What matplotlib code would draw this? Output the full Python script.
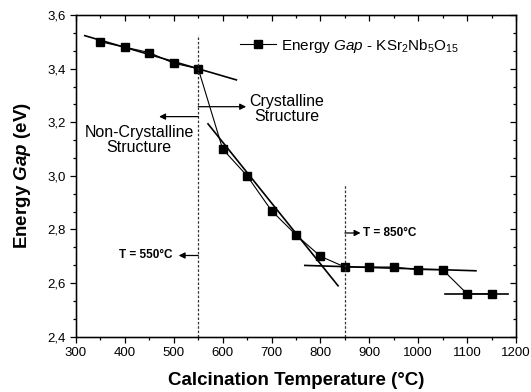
import matplotlib
matplotlib.use("Agg")
import matplotlib.pyplot as plt
from matplotlib.ticker import MultipleLocator, AutoMinorLocator, FuncFormatter

plt.rcParams["font.family"] = ["Liberation Sans", "DejaVu Sans"]
plt.rcParams["mathtext.fontset"] = "custom"
plt.rcParams["mathtext.rm"] = "Liberation Sans"
plt.rcParams["mathtext.it"] = "Liberation Sans:italic"
plt.rcParams["mathtext.bf"] = "Liberation Sans:bold"
plt.rcParams["mathtext.bfit"] = "Liberation Sans:italic:bold"

# data
temperature = [350, 400, 450, 500, 550, 600, 650, 700, 750, 800, 850, 900, 950, 1000, 1050, 1100, 1150]
energy_gap = [3.50, 3.48, 3.46, 3.42, 3.40, 3.10, 3.00, 2.87, 2.78, 2.70, 2.66, 2.66, 2.66, 2.65, 2.65, 2.56, 2.56]

# linear fit segments
fit_x = [[318, 628], [570, 836], [768, 1118], [1055, 1184]]
fit_y = [[3.523, 3.358], [3.194, 2.590], [2.666, 2.646], [2.558, 2.558]]

transitions = [550, 850]
transition_top = [3.525, 2.966]

fig = plt.figure(figsize=(5.31, 3.92), dpi=100)
ax = fig.add_axes([0.1431, 0.141, 0.8287, 0.8207])

for xs, ys in zip(fit_x, fit_y):
    ax.plot(xs, ys, color="black", lw=1.2)

ax.plot(temperature, energy_gap, color="black", lw=0.8, marker="s", ms=5.6,
        label=r"Energy $\mathit{Gap}$ - KSr$_2$Nb$_5$O$_{15}$")

for xv, ytop in zip(transitions, transition_top):
    ax.plot([xv, xv], [2.4, ytop], color="#333333", lw=0.9, ls=(0, (2, 1.5)))

arrow = dict(arrowstyle="-|>", color="black", lw=0.9, mutation_scale=9, shrinkA=0, shrinkB=0)
ax.annotate("", xy=(470, 3.221), xytext=(550, 3.221), arrowprops=arrow)
ax.annotate("", xy=(648, 3.258), xytext=(550, 3.258), arrowprops=arrow)
ax.annotate("", xy=(510, 2.703), xytext=(550, 2.703), arrowprops=arrow)
ax.annotate("", xy=(882, 2.787), xytext=(850, 2.787), arrowprops=arrow)

ax.text(731, 3.25, "Crystalline\nStructure", ha="center", va="center", fontsize=11.5, linespacing=1.05)
ax.text(429, 3.134, "Non-Crystalline\nStructure", ha="center", va="center", fontsize=11.5, linespacing=1.05)
ax.text(498, 2.703, "T = 550°C", ha="right", va="center", fontsize=8.5, fontweight="bold")
ax.text(886, 2.787, "T = 850°C", ha="left", va="center", fontsize=8.5, fontweight="bold")

ax.set_xlim(300, 1200)
ax.set_ylim(2.4, 3.6)
ax.xaxis.set_major_locator(MultipleLocator(100))
ax.xaxis.set_minor_locator(MultipleLocator(50))
ax.yaxis.set_major_locator(MultipleLocator(0.2))
ax.yaxis.set_minor_locator(AutoMinorLocator(3))
ax.yaxis.set_major_formatter(FuncFormatter(lambda v, p: f"{v:.1f}".replace(".", ",")))

ax.tick_params(which="both", direction="out", labelsize=9.5, width=0.9)
ax.tick_params(which="major", length=4)
ax.tick_params(which="minor", length=2.5)
for spine in ax.spines.values():
    spine.set_linewidth(1.0)

top = ax.twiny()
top.set_xlim(ax.get_xlim())
top.xaxis.set_major_locator(MultipleLocator(100))
top.xaxis.set_minor_locator(MultipleLocator(50))
top.tick_params(which="both", direction="in", labeltop=False, width=0.9)
top.tick_params(which="major", length=4)
top.tick_params(which="minor", length=2.5)

right = ax.twinx()
right.set_ylim(ax.get_ylim())
right.yaxis.set_major_locator(MultipleLocator(0.2))
right.yaxis.set_minor_locator(AutoMinorLocator(3))
right.tick_params(which="both", direction="in", labelright=False, width=0.9)
right.tick_params(which="major", length=4)
right.tick_params(which="minor", length=2.5)

ax.set_xlabel("Calcination Temperature (°C)", fontsize=13.5, fontweight="bold", labelpad=9)
ax.set_ylabel(r"Energy $\mathbfit{Gap}$ (eV)", fontsize=13.5, fontweight="bold", labelpad=10)

ax.legend(loc="center left", bbox_to_anchor=(0.372, 0.905), frameon=False, fontsize=11,
          handlelength=2.4, handletextpad=0.3, borderaxespad=0, borderpad=0)

fig.savefig("out.png", dpi=100)
